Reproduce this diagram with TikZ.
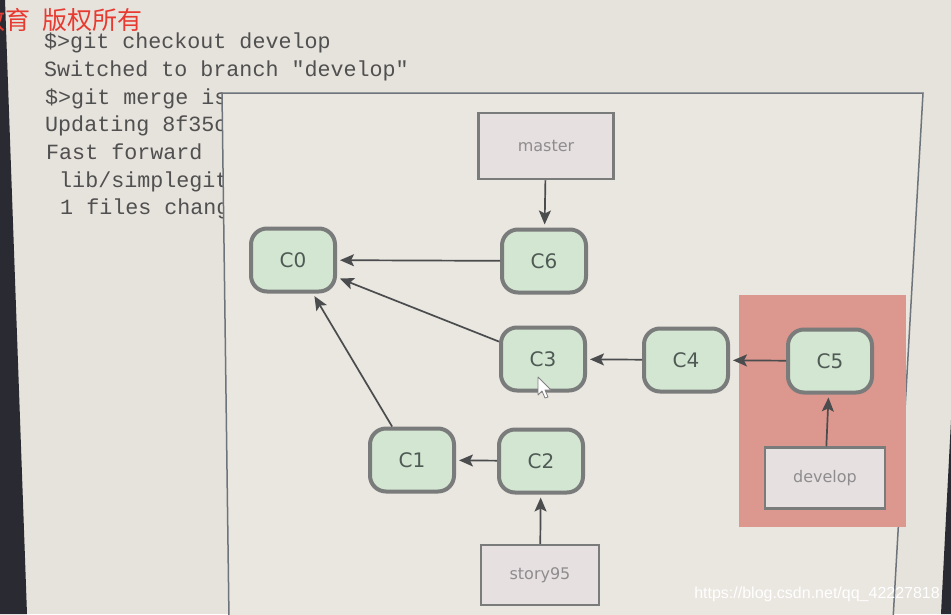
\documentclass[tikz,border=0pt]{standalone}
\usepackage{fontspec}
\setmainfont{DejaVu Sans}
\newfontfamily\monof{Liberation Mono}
\newfontfamily\cjkf{Noto Sans CJK SC}
\newfontfamily\wmf{Liberation Sans}
\usetikzlibrary{arrows.meta}
\definecolor{bg}{HTML}{E6E2DC}
\definecolor{boxbg}{HTML}{EAE6E0}
\definecolor{boxline}{HTML}{6D747C}
\definecolor{cgreen}{HTML}{D3E6D2}
\definecolor{cgray}{HTML}{7A7C7C}
\definecolor{ctext}{HTML}{4F5A55}
\definecolor{lfill}{HTML}{E6E0E0}
\definecolor{ltext}{HTML}{8E8C8E}
\definecolor{agray}{HTML}{4A4C4E}
\definecolor{salmon}{HTML}{DC978E}
\definecolor{monotext}{HTML}{505050}
\definecolor{redtext}{HTML}{E83A30}
\definecolor{darkedge}{HTML}{2A2A32}
\tikzset{
  commit/.style={draw=cgray, line width=4pt, fill=cgreen, rounded corners=16pt,
    minimum width=84pt, minimum height=63pt, inner sep=0pt,
    font=\fontsize{20}{20}\selectfont, text=ctext},
  reflabel/.style={draw=cgray, line width=2.5pt, fill=lfill, inner sep=0pt,
    text=ltext, font=\fontsize{16}{16}\selectfont},
  conn/.style={draw=agray, line width=1.7pt,
    -{Stealth[length=14pt,width=12pt,inset=3pt]}, shorten >=3pt},
  monoline/.style={anchor=base west, inner sep=0pt, text=monotext,
    font=\monof\fontsize{21.7}{21.7}\selectfont}
}
\begin{document}
\begin{tikzpicture}[x=1pt,y=-1pt]
\useasboundingbox (0,0) rectangle (951,614);
\clip (0,0) rectangle (951,614);
\fill[bg] (0,0) rectangle (951,614);
% dark edges of the photo
\fill[darkedge] (0,0) -- (5,0) -- (27,614) -- (0,614) -- cycle;
\fill[darkedge] (951,420) -- (951,614) -- (941,614) -- cycle;
% red header
\node[anchor=base west, inner sep=0pt, text=redtext, font=\cjkf\fontsize{25}{25}\selectfont] (hdr) at (-20,29) {教育\hspace{12pt}版权所有};
% terminal text
\node[monoline] (t1) at (44,48) {\$>git checkout develop};
\node[monoline] (t2) at (44,76) {Switched to branch "develop"};
\begin{scope}
\clip (0,80) rectangle (222,112);
\node[monoline] (t3) at (45,104) {\$>git merge iss53};
\end{scope}
\node[monoline] (t4) at (45,131) {Updating 8f35c};
\node[monoline] (t5) at (46,159) {Fast forward};
\node[monoline] (t6) at (46,187) {\ lib/simplegit.rb};
\node[monoline] (t7) at (47,214) {\ 1 files changed};
% overlay box
\filldraw[fill=boxbg, draw=boxline, line width=1.5pt]
  (222,93) -- (923,93) -- (893,620) -- (229,620) -- cycle;
% highlight
\fill[salmon] (739,295) rectangle (906,527);
% nodes
\node[reflabel, minimum width=135pt, minimum height=66pt] (master) at (546,146) {master};
\node[commit] (C6) at (544,261) {C6};
\node[commit] (C0) at (293,260) {C0};
\node[commit] (C3) at (543,359) {C3};
\node[commit] (C4) at (686,360) {C4};
\node[commit] (C5) at (830,361) {C5};
\node[commit] (C1) at (412,460) {C1};
\node[commit] (C2) at (541,461) {C2};
\node[reflabel, minimum width=120pt, minimum height=61pt] (develop) at (825,478) {develop};
\node[reflabel, minimum width=118pt, minimum height=60pt] (story) at (540,575) {story95};
% connectors
\draw[conn] (master) -- (C6);
\draw[conn] (C6) -- (C0);
\draw[conn] (C3) -- (C0);
\draw[conn] (C1) -- (C0);
\draw[conn] (C2) -- (C1);
\draw[conn] (C4) -- (C3);
\draw[conn] (C5) -- (C4);
\draw[conn] (develop) -- (C5);
\draw[conn] (story) -- (C2);
% mouse pointer
\filldraw[fill=white, draw=gray, line width=0.8pt, line join=round]
  (538,377) -- (538,395) -- (542,391) -- (545,398) -- (548,397) -- (545,390) -- (551,390) -- cycle;
% watermark
\node[anchor=east, inner sep=0pt, text=white, font=\wmf\fontsize{16}{16}\selectfont] (wm) at (940,594) {https://blog.csdn.net/qq\_42227818};
\end{tikzpicture}
\end{document}
